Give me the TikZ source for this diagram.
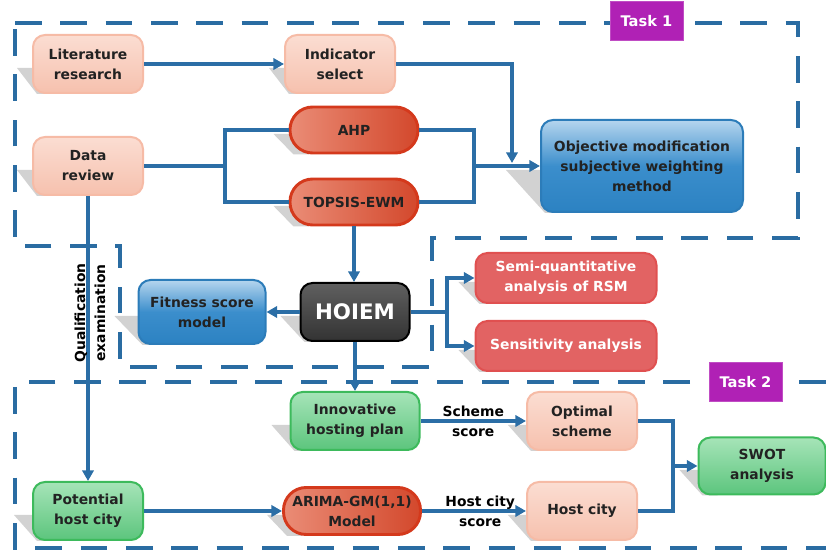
\documentclass[tikz,border=0pt]{standalone}
\usepackage{fontspec}
\setmainfont{DejaVu Sans}
\usetikzlibrary{arrows.meta,calc}
\definecolor{framec}{HTML}{2A6CA2}
\definecolor{connc}{HTML}{2B6EA6}
\definecolor{textc}{HTML}{222222}
\definecolor{peacht}{HTML}{FBDDD2}
\definecolor{peachbot}{HTML}{F6C1AE}
\definecolor{peachb}{HTML}{F6BBA6}
\definecolor{redl}{HTML}{EA8C76}
\definecolor{redr}{HTML}{D3482C}
\definecolor{redb}{HTML}{D4391C}
\definecolor{bluet}{HTML}{B5D5EE}
\definecolor{bluem}{HTML}{3B8ECC}
\definecolor{blueb}{HTML}{2C82C2}
\definecolor{bluebd}{HTML}{2C7CB9}
\definecolor{rboxf}{HTML}{E26363}
\definecolor{rboxb}{HTML}{E05050}
\definecolor{greent}{HTML}{A6E4B8}
\definecolor{greenbot}{HTML}{5CC57D}
\definecolor{greenb}{HTML}{3DBA5C}
\definecolor{magc}{HTML}{B021B5}
\definecolor{shadowc}{HTML}{D2D2D2}
\pgfdeclarelayer{frame}
\pgfdeclarelayer{shad}
\pgfsetlayers{frame,shad,main}
\newcommand{\nshadow}[2]{\begin{pgfonlayer}{shad}\fill[shadowc] ($(#1.west)+(-#2,4)$) -- ($(#1.west)+(20,4)$) -- ($(#1.south west)+(20,0)$) -- ($(#1.south west)+(5,0)$) -- cycle;\end{pgfonlayer}}
\tikzset{
  base/.style={font=\bfseries\fontsize{10.4}{15}\selectfont, align=center, text=textc, inner sep=0pt},
  peach/.style={base, rounded corners=9pt, draw=peachb, line width=1.5pt, top color=peacht, bottom color=peachbot, minimum width=82.5pt, minimum height=43.5pt},
  pill/.style={base, rounded corners=17pt, draw=redb, line width=2.2pt, left color=redl, right color=redr},
  bluebox/.style={base, rounded corners=9pt, draw=bluebd, line width=1.5pt, top color=bluet, bottom color=blueb, middle color=bluem},
  redbox/.style={base, text=white, rounded corners=9pt, draw=rboxb, line width=1.5pt, fill=rboxf, minimum width=135.75pt, minimum height=37.5pt},
  greenbox/.style={base, rounded corners=9pt, draw=greenb, line width=1.5pt, top color=greent, bottom color=greenbot, minimum width=82.5pt, minimum height=43.5pt},
  hoiembox/.style={base, text=white, font=\bfseries\fontsize{16}{18}\selectfont, rounded corners=9pt, draw=black, line width=1.5pt, top color=gray!75!black, middle color=black!95, bottom color=black!80, minimum width=81.75pt, minimum height=43.5pt},
  taskbox/.style={base, text=white, font=\bfseries\fontsize{11}{13}\selectfont, fill=magc, draw=magc!80!white, line width=0.6pt, minimum width=54.75pt, minimum height=29pt},
  frame/.style={draw=framec, line width=3pt, dash pattern=on 20pt off 14pt},
  conn/.style={draw=connc, line width=2.4pt},
  arr/.style={conn, -{Triangle[length=8pt,width=8.5pt]}},
  lbl/.style={base, text=black}
}
\begin{document}
\begin{tikzpicture}[x=0.75pt,y=-0.75pt]
\useasboundingbox (0,0) rectangle (826,552);
% frames
\begin{pgfonlayer}{frame}
\draw[frame] (15,23) -- (798,23) -- (798,238) -- (432,238) -- (432,367) -- (120,367) -- (120,246) -- (15,246) -- cycle;
\draw[frame] (826,382) -- (15,382) -- (15,548) -- (826,548);
\end{pgfonlayer}
% nodes
\node[peach] (lit) at (88,64) {Literature\\research};
\node[peach] (ind) at (340,64) {Indicator\\select};
\node[peach] (data) at (88,166) {Data\\review};
\node[pill, minimum width=96pt, minimum height=34.5pt] (ahp) at (354,130) {AHP};
\node[pill, minimum width=96pt, minimum height=34.5pt] (top) at (354,202) {TOPSIS-EWM};
\node[bluebox, minimum width=151.5pt, minimum height=69pt] (obj) at (642,166) {Objective modification\\subjective weighting\\method};
\node[bluebox, minimum width=95.25pt, minimum height=48pt] (fit) at (202,312) {Fitness score\\model};
\node[hoiembox] (hoiem) at (355,312) {HOIEM};
\node[redbox] (semi) at (566,278) {Semi-quantitative\\analysis of RSM};
\node[redbox] (sens) at (566,346) {Sensitivity analysis};
\node[greenbox, minimum width=96.75pt] (inno) at (355,421) {Innovative\\hosting plan};
\node[greenbox] (pot) at (88,511) {Potential\\host city};
\node[pill, minimum width=102.75pt, minimum height=35.25pt] (arima) at (352,511) {ARIMA-GM(1,1)\\Model};
\node[peach] (opt) at (582,421) {Optimal\\scheme};
\node[peach] (host) at (582,511) {Host city};
\node[greenbox, minimum width=95.25pt, minimum height=42.75pt] (swot) at (762,466) {SWOT\\analysis};
\node[taskbox] (t1) at (646.5,21) {Task 1};
\node[taskbox] (t2) at (745.5,382) {Task 2};
% shadows
\nshadow{lit}{15}
\nshadow{ind}{15}
\nshadow{data}{15}
\nshadow{ahp}{15}
\nshadow{top}{15}
\nshadow{obj}{34}
\nshadow{fit}{23}
\nshadow{hoiem}{19}
\nshadow{semi}{16}
\nshadow{sens}{16}
\nshadow{inno}{18}
\nshadow{pot}{18}
\nshadow{arima}{15}
\nshadow{opt}{18}
\nshadow{host}{18}
\nshadow{swot}{18}
% junction coordinates
\coordinate (j1) at (512,163);
\coordinate (s1) at (225,166);
\coordinate (s2) at (474,166);
\coordinate (s3) at (447,312);
\coordinate (s4) at (673,466);
% connectors
\draw[arr] (lit) -- (ind);
\draw[arr] (ind.east) -| (j1);
\draw[conn] (data.east) -- (s1);
\draw[conn] (ahp.west) -| (s1) |- (top.west);
\draw[conn] (ahp.east) -| (s2) |- (top.east);
\draw[arr] (s2) -- (obj.west);
\draw[arr] (top.south) -- (top.south |- hoiem.north);
\draw[arr] (hoiem.west) -- (fit.east);
\draw[conn] (hoiem.east) -- (s3);
\draw[arr] (s3) |- (semi.west);
\draw[arr] (s3) |- (sens.west);
\draw[arr] (hoiem.south) -- (hoiem.south |- inno.north);
\draw[arr] (data.south) -- (pot.north);
\node[lbl, rotate=90] (qual) at (90,313) {Qualification\\examination};
\draw[arr] (pot.east) -- (arima.west);
\draw[arr] (inno.east) -- (opt.west) node[lbl, midway] (lsch) {Scheme\\score};
\draw[arr] (arima.east) -- (host.west) node[lbl, pos=0.56] (lhc) {Host city\\score};
\draw[conn] (opt.east) -| (s4) |- (host.east);
\draw[arr] (s4) -- (swot.west);
\end{tikzpicture}
\end{document}
